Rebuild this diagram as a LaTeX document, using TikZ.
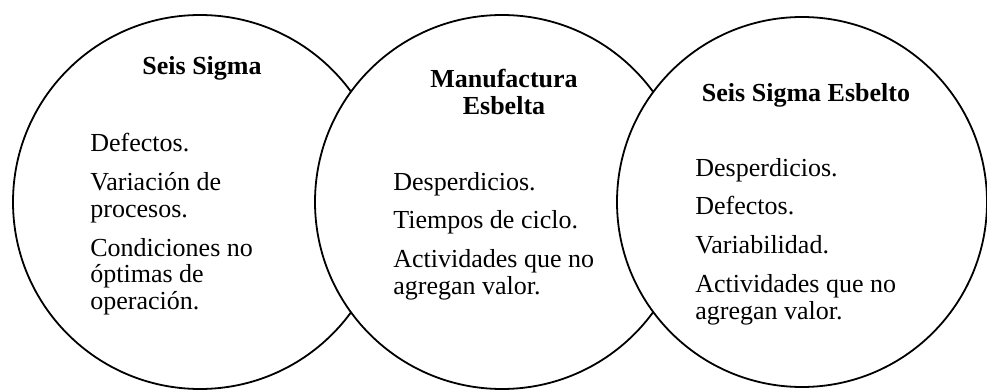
\documentclass[tikz,border=0pt]{standalone}
\usepackage{fontspec}
\setmainfont{Liberation Serif}

\begin{document}
\begin{tikzpicture}[x=0.5pt, y=-0.5pt,
        circ/.style={draw, circle, fill=white, line width=0.9pt, inner sep=0pt},
        titulo/.style={font=\bfseries\fontsize{13}{13.5}\selectfont, align=center, anchor=base, inner sep=0pt},
        texto/.style={font=\fontsize{13}{13.5}\selectfont, align=left, anchor=base west, inner sep=0pt}]
                \path[use as bounding box, clip] (0,0) rectangle (987,390);
                \node[circ, minimum size=187pt] (ss) at (200,202) {};
                \node[circ, minimum size=187pt] (me) at (502,202) {};
                \node[circ, minimum size=185pt] (sse) at (802,202) {};
                \node[titulo] (ssT) at (202,75) {Seis Sigma};
                \node[titulo] (meT) at (504,115) {Manufactura\\Esbelta};
                \node[titulo] (sseT) at (806,102) {Seis Sigma Esbelto};
                \node[texto] (ssL) at (90,310) {Defectos.\\[6pt]Variación de\\procesos.\\[6pt]Condiciones no\\óptimas de\\operación.};
                \node[texto] (meL) at (393,295) {Desperdicios.\\[6pt]Tiempos de ciclo.\\[6pt]Actividades que no\\agregan valor.};
                \node[texto] (sseL) at (695,320) {Desperdicios.\\[6pt]Defectos.\\[6pt]Variabilidad.\\[6pt]Actividades que no\\agregan valor.};
            \end{tikzpicture}
\end{document}
